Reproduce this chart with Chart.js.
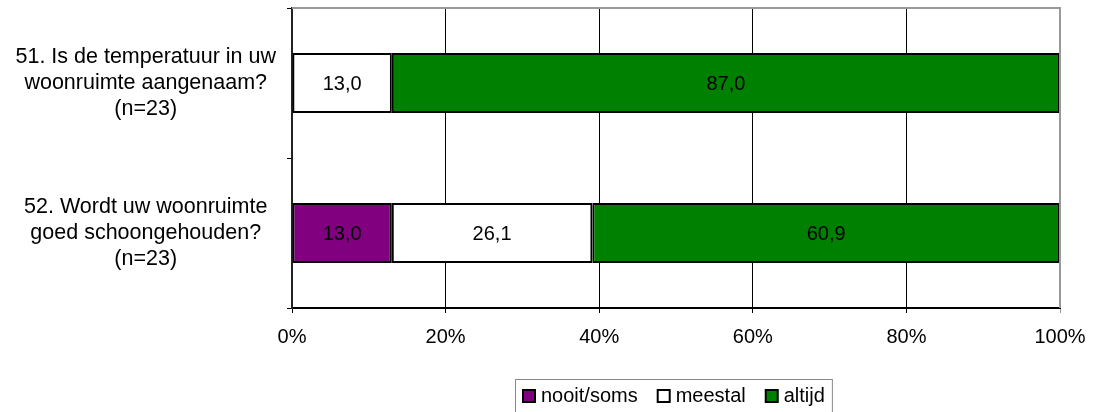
<!DOCTYPE html>
<html>
<head>
<meta charset="utf-8">
<script src="https://cdn.jsdelivr.net/npm/chart.js@4/dist/chart.umd.min.js"></script>
<style>
    html, body { margin: 0; padding: 0; background: #fff; }
    #wrap { width: 1106px; height: 412px; }
</style>
</head>
<body>
<div id="wrap"><canvas id="chart" width="1106" height="412"></canvas></div>
<script>
    'use strict';

    // Survey questions (one bar each) and answer shares in percent
    const questions = [
        ['51. Is de temperatuur in uw', 'woonruimte aangenaam?', '(n=23)'],
        ['52. Wordt uw woonruimte', 'goed schoongehouden?', '(n=23)']
    ];
    const nooitSoms = [0, 13.0];
    const meestal = [13.0, 26.1];
    const altijd = [87.0, 60.9];
    const xTicks = [0, 20, 40, 60, 80, 100];

    const FONT = 'Liberation Sans, Arial, sans-serif';
    const fmt = v => v.toFixed(1).replace('.', ',');

    // Value text in the middle of every non-empty segment
    const segmentLabels = {
        id: 'segmentLabels',
        afterDatasetsDraw(chart) {
            const ctx = chart.ctx;
            ctx.save();
            ctx.font = '20px ' + FONT;
            ctx.fillStyle = '#000';
            ctx.textAlign = 'center';
            ctx.textBaseline = 'middle';
            chart.data.datasets.forEach((ds, i) => {
                chart.getDatasetMeta(i).data.forEach((bar, j) => {
                    const v = ds.data[j];
                    if (!v) return;
                    ctx.fillText(fmt(v), (bar.x + bar.base) / 2, bar.y + 1);
                });
            });
            ctx.restore();
        }
    };

    // Grey frame on top and right of the plot, plus the boxed legend below
    const frameAndLegend = {
        id: 'frameAndLegend',
        afterDraw(chart) {
            const ctx = chart.ctx;
            const a = chart.chartArea;
            ctx.save();
            ctx.strokeStyle = '#999';
            ctx.lineWidth = 2;
            ctx.beginPath();
            ctx.moveTo(a.left, a.top);
            ctx.lineTo(a.right, a.top);
            ctx.lineTo(a.right, a.bottom);
            ctx.stroke();

            ctx.font = '20px ' + FONT;
            const box = 12, gap = 6, spacing = 20;
            const items = chart.data.datasets.map(ds => ({
                label: ds.label,
                color: ds.backgroundColor,
                w: box + gap + ctx.measureText(ds.label).width
            }));
            const total = items.reduce((s, it) => s + it.w, 0) + spacing * (items.length - 1);
            const cy = 396;
            let x = Math.round((a.left + a.right) / 2 - total / 2) - 2;

            ctx.strokeStyle = '#888';
            ctx.lineWidth = 1;
            ctx.strokeRect(x - 7.5, 379.5, total + 15, 40);

            ctx.textAlign = 'left';
            ctx.textBaseline = 'middle';
            items.forEach(it => {
                ctx.fillStyle = it.color;
                ctx.fillRect(x, cy - box / 2, box, box);
                ctx.strokeStyle = '#000';
                ctx.lineWidth = 2;
                ctx.strokeRect(x, cy - box / 2, box, box);
                ctx.fillStyle = '#000';
                ctx.fillText(it.label, x + box + gap, cy);
                x += it.w + spacing;
            });
            ctx.restore();
        }
    };

    const noBorderOnZero = c => (c.raw ? 2 : 0);

    new Chart(document.getElementById('chart'), {
        type: 'bar',
        data: {
            labels: questions,
            datasets: [
                { label: 'nooit/soms', data: nooitSoms, backgroundColor: '#800080' },
                { label: 'meestal', data: meestal, backgroundColor: '#ffffff' },
                { label: 'altijd', data: altijd, backgroundColor: '#008000' }
            ].map(ds => Object.assign(ds, {
                borderColor: '#000',
                borderWidth: noBorderOnZero,
                borderSkipped: false,
                barPercentage: 0.4,
                categoryPercentage: 1.0
            }))
        },
        options: {
            indexAxis: 'y',
            responsive: false,
            animation: false,
            layout: { padding: { left: 0, right: 46, top: 8, bottom: 64 } },
            plugins: {
                legend: { display: false },
                tooltip: { enabled: false }
            },
            scales: {
                x: {
                    stacked: true,
                    min: 0,
                    max: 100,
                    afterBuildTicks: scale => {
                        scale.ticks = xTicks.map(v => ({ value: v }));
                    },
                    afterFit: scale => { scale.height = 40; },
                    ticks: {
                        color: '#000',
                        padding: 12,
                        maxRotation: 0,
                        font: { family: FONT, size: 20 },
                        callback: v => v + '%'
                    },
                    grid: {
                        color: c => (c.tick && c.tick.value === 100 ? '#999' : '#000'),
                        lineWidth: 1,
                        tickLength: 5
                    },
                    border: { color: '#000', width: 2 }
                },
                y: {
                    stacked: true,
                    offset: true,
                    // three-line labels sit inside their band, so no extra room above/below
                    afterFit: scale => {
                        scale.width = 292;
                        scale.paddingTop = 0;
                        scale.paddingBottom = 0;
                    },
                    ticks: {
                        color: '#000',
                        padding: 11,
                        crossAlign: 'center',
                        font: { family: FONT, size: 21.5, lineHeight: 1.21 }
                    },
                    grid: {
                        offset: true,
                        drawOnChartArea: false,
                        color: '#000',
                        tickLength: 5
                    },
                    border: { color: '#222', width: 2 }
                }
            }
        },
        plugins: [segmentLabels, frameAndLegend]
    });
</script>
</body>
</html>
